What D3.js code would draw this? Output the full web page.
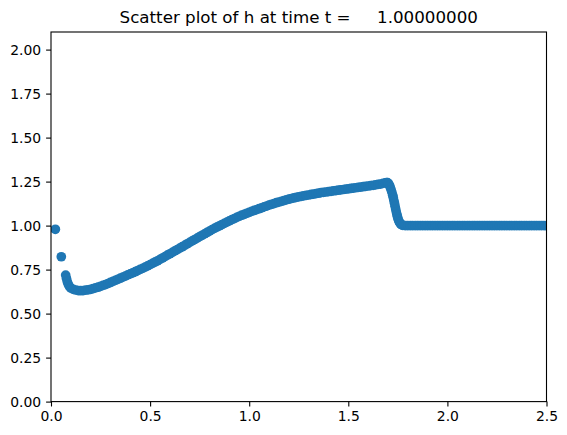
<!DOCTYPE html>
<html><head><meta charset="utf-8">
<script src="https://cdn.jsdelivr.net/npm/d3@7"></script>
<style>
body{margin:0;background:#fff;}
text{font-family:"DejaVu Sans",sans-serif;}
</style></head>
<body><svg id="c" width="567" height="435"></svg>
<script>
const titleText = "Scatter plot of h at time t =     1.00000000";
const xTicks = [0.0, 0.5, 1.0, 1.5, 2.0, 2.5];
const yTicks = [0.00, 0.25, 0.50, 0.75, 1.00, 1.25, 1.50, 1.75, 2.00];
// particle positions (x) and depth values (h)
const xs = [0.022,0.052,0.074,0.078,0.082,0.087,0.093,
0.1000,0.1125,0.1250,0.1375,0.1500,0.1625,0.1750,0.1875,0.2000,0.2125,0.2250,0.2375,0.2500,0.2625,0.2750,0.2875,
0.3000,0.3125,0.3250,0.3375,0.3500,0.3625,0.3750,0.3875,0.4000,0.4125,0.4250,0.4375,0.4500,0.4625,0.4750,0.4875,
0.5000,0.5125,0.5250,0.5375,0.5500,0.5625,0.5750,0.5875,0.6000,0.6125,0.6250,0.6375,0.6500,0.6625,0.6750,0.6875,
0.7000,0.7125,0.7250,0.7375,0.7500,0.7625,0.7750,0.7875,0.8000,0.8125,0.8250,0.8375,0.8500,0.8625,0.8750,0.8875,
0.9000,0.9125,0.9250,0.9375,0.9500,0.9625,0.9750,0.9875,1.0000,1.0125,1.0250,1.0375,1.0500,1.0625,1.0750,1.0875,
1.1000,1.1125,1.1250,1.1375,1.1500,1.1625,1.1750,1.1875,1.2000,1.2125,1.2250,1.2375,1.2500,1.2625,1.2750,1.2875,
1.3000,1.3125,1.3250,1.3375,1.3500,1.3625,1.3750,1.3875,1.4000,1.4125,1.4250,1.4375,1.4500,1.4625,1.4750,1.4875,
1.5000,1.5125,1.5250,1.5375,1.5500,1.5625,1.5750,1.5875,1.6000,1.6125,1.6250,1.6375,1.6500,1.6625,1.6750,1.6875,
1.693,1.698,1.703,1.708,1.712,1.716,1.720,1.724,1.727,1.730,1.733,1.736,1.739,1.742,1.745,1.748,1.751,1.755,1.759,1.764,1.770,1.775,
1.7875,1.8000,1.8125,1.8250,1.8375,1.8500,1.8625,1.8750,1.8875,1.9000,1.9125,1.9250,1.9375,1.9500,1.9625,1.9750,1.9875,
2.0000,2.0125,2.0250,2.0375,2.0500,2.0625,2.0750,2.0875,2.1000,2.1125,2.1250,2.1375,2.1500,2.1625,2.1750,2.1875,
2.2000,2.2125,2.2250,2.2375,2.2500,2.2625,2.2750,2.2875,2.3000,2.3125,2.3250,2.3375,2.3500,2.3625,2.3750,2.3875,
2.4000,2.4125,2.4250,2.4375,2.4500,2.4625,2.4750,2.4875,2.5000];
const hs = [0.979,0.823,0.719,0.700,0.682,0.667,0.654,
0.645,0.638,0.634,0.631,0.630,0.631,0.633,0.635,0.638,0.642,0.646,0.650,0.655,0.660,0.665,0.671,
0.677,0.683,0.689,0.695,0.701,0.707,0.713,0.720,0.726,0.732,0.738,0.745,0.751,0.757,0.764,0.771,
0.778,0.785,0.793,0.800,0.808,0.816,0.824,0.832,0.840,0.848,0.856,0.864,0.872,0.880,0.888,0.897,
0.905,0.913,0.921,0.929,0.937,0.945,0.953,0.961,0.969,0.977,0.984,0.992,0.999,1.006,1.013,1.020,
1.027,1.034,1.040,1.047,1.053,1.059,1.064,1.070,1.075,1.081,1.086,1.091,1.096,1.101,1.106,1.111,
1.116,1.121,1.125,1.130,1.134,1.138,1.142,1.146,1.150,1.154,1.157,1.160,1.163,1.166,1.169,1.172,
1.174,1.177,1.179,1.182,1.184,1.187,1.189,1.191,1.193,1.195,1.197,1.199,1.201,1.203,1.205,1.207,
1.209,1.211,1.213,1.215,1.217,1.219,1.221,1.223,1.225,1.227,1.229,1.231,1.234,1.236,1.240,1.243,
1.245,1.244,1.238,1.228,1.216,1.203,1.189,1.172,1.158,1.142,1.127,1.110,1.094,1.078,1.063,1.050,1.038,1.026,1.017,1.009,1.004,1.001,
1.0,1.0,1.0,1.0,1.0,1.0,1.0,1.0,1.0,1.0,1.0,1.0,1.0,1.0,1.0,1.0,1.0,
1.0,1.0,1.0,1.0,1.0,1.0,1.0,1.0,1.0,1.0,1.0,1.0,1.0,1.0,1.0,1.0,
1.0,1.0,1.0,1.0,1.0,1.0,1.0,1.0,1.0,1.0,1.0,1.0,1.0,1.0,1.0,1.0,
1.0,1.0,1.0,1.0,1.0,1.0,1.0,1.0,1.0];

const svg = d3.select("#c");
const L = 51, R = 546.5, T = 32, B = 401.6;
const x = d3.scaleLinear().domain([0, 2.5]).range([L, R]);
const y = d3.scaleLinear().domain([0, 2.1]).range([B, T]);

svg.append("defs").append("clipPath").attr("id","clip")
  .append("rect").attr("x",L).attr("y",T).attr("width",R-L).attr("height",B-T);

const pts = xs.map((d,i)=>({x:d,h:hs[i]}));
svg.append("g").attr("clip-path","url(#clip)")
  .selectAll("circle").data(pts).join("circle")
  .attr("cx",d=>x(d.x)).attr("cy",d=>y(d.h)).attr("r",4.85)
  .attr("fill","#1f77b4");

const fs = "13.9px";
const xAxis = svg.append("g").attr("transform",`translate(0,${B})`)
  .call(d3.axisBottom(x).tickValues(xTicks).tickFormat(d3.format(".1f")).tickSize(4.9).tickPadding(4.9));
const yAxis = svg.append("g").attr("transform",`translate(${L},0)`)
  .call(d3.axisLeft(y).tickValues(yTicks).tickFormat(d3.format(".2f")).tickSize(4.9).tickPadding(4.9));
[xAxis,yAxis].forEach(g=>{
  g.select(".domain").remove();
  g.selectAll("line").attr("stroke","#000").attr("stroke-width",1.1);
  g.selectAll("text").attr("font-size",fs).attr("font-family","DejaVu Sans").attr("fill","#000");
});

svg.append("rect").attr("x",L).attr("y",T).attr("width",R-L).attr("height",B-T)
  .attr("fill","none").attr("stroke","#000").attr("stroke-width",1.1);

svg.append("text").attr("x",(L+R)/2).attr("y",T-9.5)
  .attr("text-anchor","middle").attr("font-size","16.7px")
  .attr("fill","#000").style("white-space","pre").text(titleText);
</script></body></html>
